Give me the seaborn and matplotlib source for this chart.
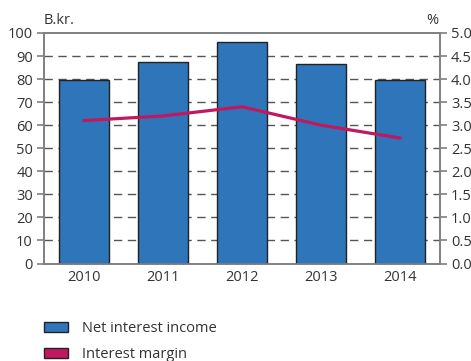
import matplotlib
matplotlib.use("Agg")
import matplotlib.pyplot as plt
from matplotlib.patches import Patch
import seaborn as sns
import pandas as pd

years = ["2010", "2011", "2012", "2013", "2014"]
net_interest_income = [79.4, 87.4, 95.9, 86.7, 79.6]   # B.kr.
interest_margin = [3.10, 3.20, 3.40, 3.00, 2.72]        # %

bar_color = "#2E75B9"
line_color = "#C2185F"
text_color = "#333333"
spine_color = "#808080"

sns.set_theme(style="white")
plt.rcParams["font.family"] = ["Open Sans", "DejaVu Sans"]

df = pd.DataFrame({"year": years, "nii": net_interest_income, "margin": interest_margin})

fig = plt.figure(figsize=(4.71, 3.61), dpi=100)
ax = fig.add_axes([44 / 471, 1 - 263.5 / 361, 396 / 471, 230.5 / 361])

sns.barplot(data=df, x="year", y="nii", ax=ax, color=bar_color, width=0.63,
            edgecolor="#222222", linewidth=1.0, saturation=1, zorder=3)
ax.set_xlim(-0.5, 4.5)
ax.set_ylim(0, 100)
ax.set_yticks(range(0, 101, 10))
ax.set_xlabel("")
ax.set_ylabel("")

# dashed horizontal guides behind the bars
for v in range(10, 100, 10):
    ax.axhline(v, color="#555555", lw=1.0, ls=(0, (6, 4)), zorder=1)

ax2 = ax.twinx()
sns.lineplot(data=df, x="year", y="margin", ax=ax2, color=line_color, lw=2.3,
             sort=False, zorder=4)
ax2.set_ylim(0, 5)
ax2.set_yticks([i * 0.5 for i in range(11)])
ax2.set_yticklabels([f"{i * 0.5:.1f}" for i in range(11)])
ax2.set_ylabel("")
ax2.set_xlim(-0.5, 4.5)

for a in (ax, ax2):
    for s in a.spines.values():
        s.set_color(spine_color)
        s.set_linewidth(1.2)

# year labels centred, tick marks on category boundaries
ax.set_xticks(range(5))
ax.set_xticklabels(years)
ax.set_xticks([i - 0.5 for i in range(6)], minor=True)
ax.tick_params(axis="x", which="major", length=0, pad=5, labelsize=10.5, labelcolor=text_color)
ax.tick_params(axis="x", which="minor", length=5, width=1.2, color=spine_color, direction="out")
ax.tick_params(axis="y", length=5, width=1.2, color=spine_color, direction="out",
               labelsize=10.5, labelcolor=text_color, pad=3, left=True)
ax2.tick_params(axis="y", length=5, width=1.2, color=spine_color, direction="out",
                labelsize=10.5, labelcolor=text_color, pad=3, right=True)

fig.text(44 / 471, 1 - 20 / 361, "B.kr.", fontsize=10.5, color=text_color, ha="left", va="center")
fig.text(432 / 471, 1 - 20 / 361, "%", fontsize=10.5, color=text_color, ha="center", va="center")

handles = [Patch(facecolor=bar_color, edgecolor="#222222", lw=1.0, label="Net interest income"),
           Patch(facecolor=line_color, edgecolor="#222222", lw=1.0, label="Interest margin")]
fig.legend(handles=handles, loc="upper left", bbox_to_anchor=(34 / 471, 1 - 311 / 361),
           frameon=False, fontsize=10.5, labelcolor=text_color, handlelength=1.6,
           handleheight=0.7, handletextpad=1.0, labelspacing=0.75, borderpad=0.2)

fig.savefig("out.png", dpi=100)
